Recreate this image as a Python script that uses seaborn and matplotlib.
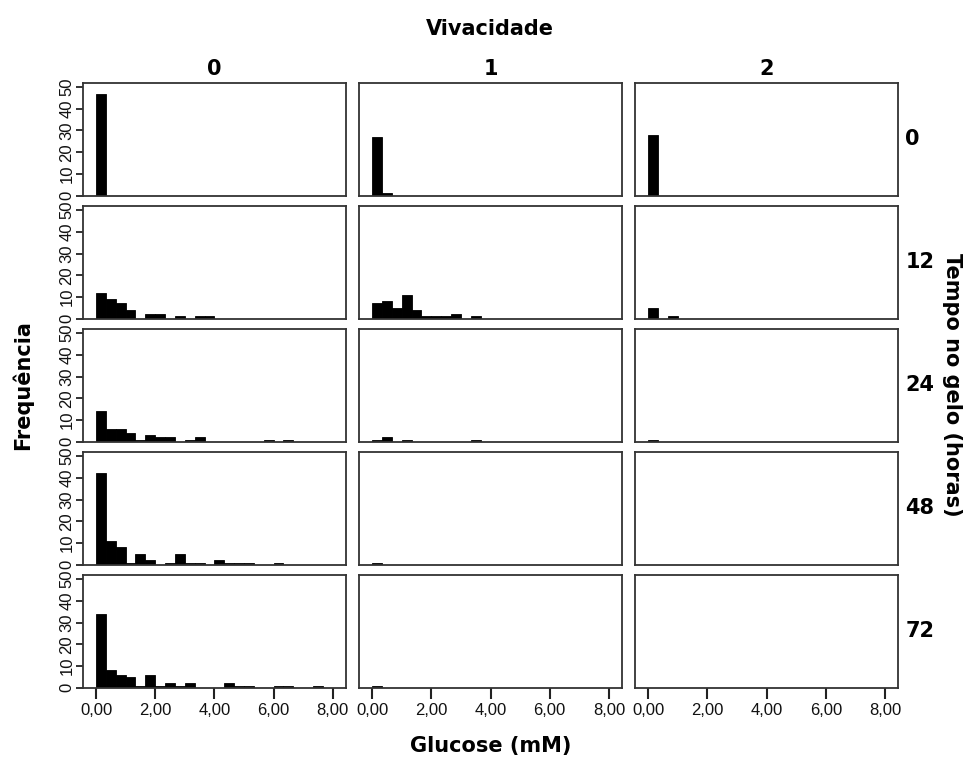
import numpy as np
import pandas as pd
import matplotlib
matplotlib.use("Agg")
import matplotlib.pyplot as plt
import seaborn as sns

# ---- data (counts per bin of width 1/3 mM, starting at 0) ----
tempos = ["0", "12", "24", "48", "72"]
vivacidades = ["0", "1", "2"]

c_0_0 = [47]
c_0_1 = [27, 1]
c_0_2 = [28]
c_12_0 = [12, 9, 7, 4, 0, 2, 2, 0, 1, 0, 1, 1]
c_12_1 = [7, 8, 5, 11, 4, 1, 1, 1, 2, 0, 1]
c_12_2 = [5, 0, 1]
c_24_0 = [14, 6, 6, 4, 1, 3, 2, 2, 0, 1, 2, 0, 0, 0, 0, 0, 0, 1, 0, 1]
c_24_1 = [1, 2, 0, 1, 0, 0, 0, 0, 0, 0, 1]
c_24_2 = [1]
c_48_0 = [42, 11, 8, 1, 5, 2, 0, 1, 5, 1, 1, 0, 2, 1, 1, 1, 0, 0, 1, 0, 0, 0, 0]
c_48_1 = [1, 0, 0, 0, 0, 0, 0, 0, 0, 0, 0, 0, 0, 0, 0, 0, 0, 0, 0, 0, 0, 0, 0]
c_48_2 = []
c_72_0 = [34, 8, 6, 5, 1, 6, 1, 2, 1, 2, 0, 0, 0, 2, 1, 1, 0, 0, 1, 1, 0, 0, 1]
c_72_1 = [1, 0, 0, 0, 0, 0, 0, 0, 0, 0, 0, 0, 0, 0, 0, 0, 0, 0, 0, 0, 0, 0, 0]
c_72_2 = []

counts = [
    [c_0_0, c_0_1, c_0_2],
    [c_12_0, c_12_1, c_12_2],
    [c_24_0, c_24_1, c_24_2],
    [c_48_0, c_48_1, c_48_2],
    [c_72_0, c_72_1, c_72_2],
]

x_ticks = [0, 2, 4, 6, 8]
x_ticklabels = ["0,00", "2,00", "4,00", "6,00", "8,00"]
y_ticks = [0, 10, 20, 30, 40, 50]
y_ticklabels = ["0", "10", "20", "30", "40", "50"]

BIN_WIDTH = 1.0 / 3.0

# ---- style ----
sns.set_theme(style="white")
plt.rcParams["font.family"] = ["Liberation Sans", "DejaVu Sans"]
plt.rcParams["text.color"] = "black"
plt.rcParams["xtick.color"] = "black"
plt.rcParams["ytick.color"] = "black"
TITLE_FONT = dict(family=["DejaVu Sans"], fontsize=15, fontweight="bold",
                  color="black")

W, H = 966, 767
fig, axes = plt.subplots(5, 3, figsize=(W / 100, H / 100), dpi=100,
                         sharex=True, sharey=True)
fig.subplots_adjust(left=82.7 / W, right=898.3 / W,
                    top=1 - 82.7 / H, bottom=1 - 687.7 / H,
                    wspace=0.048, hspace=0.089)

for r in range(5):
    for c in range(3):
        ax = axes[r, c]
        vals = counts[r][c]
        if len(vals) > 0:
            n = len(vals)
            df = pd.DataFrame({
                "glucose": (np.arange(n) + 0.5) * BIN_WIDTH,
                "freq": np.asarray(vals, dtype=float),
            })
            sns.histplot(data=df, x="glucose", weights="freq", bins=n,
                         binrange=(0, n * BIN_WIDTH),
                         ax=ax, color="black", edgecolor="black",
                         linewidth=0.6, alpha=1.0, stat="count")
        ax.set_xlim(-0.45, 8.45)
        ax.set_ylim(0, 52)
        ax.set_xlabel("")
        ax.set_ylabel("")
        for s in ax.spines.values():
            s.set_visible(True)
            s.set_color("#333333")
            s.set_linewidth(1.3)
        ax.set_xticks(x_ticks)
        ax.set_yticks(y_ticks)
        ax.tick_params(axis="x", bottom=(r == 4), labelbottom=(r == 4),
                       length=8, width=1.5, color="#222222",
                       labelsize=12, labelcolor="#111111", pad=3)
        ax.tick_params(axis="y", left=(c == 0), labelleft=(c == 0),
                       length=5, width=1.3, color="#222222",
                       labelsize=12, labelcolor="#111111", pad=1)
        if r == 4:
            ax.set_xticklabels(x_ticklabels)
        if c == 0:
            ax.set_yticklabels(y_ticklabels, rotation=90, va="center")
        ax.grid(False)

# column headers
for c in range(3):
    pos = axes[0, c].get_position()
    fig.text((pos.x0 + pos.x1) / 2, 1 - 69 / H, vivacidades[c],
             ha="center", va="center", **TITLE_FONT)

# row headers
for r in range(5):
    pos = axes[r, 2].get_position()
    fig.text(pos.x1 + 7 / W, (pos.y0 + pos.y1) / 2, tempos[r],
             ha="left", va="center", **TITLE_FONT)

fig.text(490 / W, 1 - 29 / H, "Vivacidade", ha="center", va="center",
         **TITLE_FONT)
fig.text(491 / W, 1 - 746 / H, "Glucose (mM)", ha="center", va="center",
         **TITLE_FONT)
fig.text(22 / W, 1 - 385 / H, "Frequência", ha="center", va="center",
         rotation=90, **TITLE_FONT)
fig.text(952 / W, 1 - 385 / H, "Tempo no gelo (horas)", ha="center",
         va="center", rotation=270, **TITLE_FONT)

fig.savefig("out.png", dpi=100, facecolor="white")
